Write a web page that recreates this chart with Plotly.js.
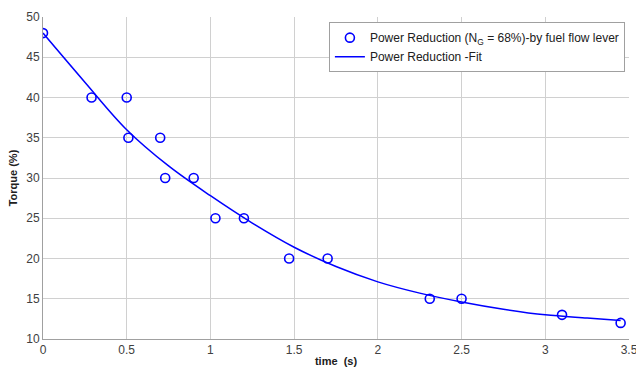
<!DOCTYPE html>
<html>
<head>
<meta charset="utf-8">
<script src="https://cdn.plot.ly/plotly-3.0.1.min.js"></script>
<style>html,body{margin:0;padding:0;background:#fff;}#chart{width:636px;height:367px;}</style>
</head>
<body>
<div id="chart"></div>
<script>
var measTime = [0, 0.29, 0.5, 0.51, 0.7, 0.73, 0.9, 1.03, 1.2, 1.47, 1.7, 2.31, 2.5, 3.1, 3.45];
var measTorque = [48, 40, 40, 35, 35, 30, 30, 25, 25, 20, 20, 15, 15, 13, 12];
var fitTime = [0, 0.25, 0.5, 0.75, 1.0, 1.25, 1.5, 1.75, 2.0, 2.25, 2.5, 2.75, 3.0, 3.25, 3.45];
var fitTorque = [48, 41.9, 36.0, 31.5, 27.8, 24.4, 21.4, 19.0, 17.1, 15.7, 14.6, 13.7, 13.0, 12.6, 12.3];
var xTicks = [0, 0.5, 1, 1.5, 2, 2.5, 3, 3.5];
var yTicks = [10, 15, 20, 25, 30, 35, 40, 45, 50];

var traces = [
  {
    x: measTime, y: measTorque, type: 'scatter', mode: 'markers',
    name: 'Power Reduction (N<sub>G</sub> = 68%)-by fuel flow lever',
    marker: {symbol: 'circle-open', size: 9, color: '#0000ff', line: {width: 1.6, color: '#0000ff'}}
  },
  {
    x: fitTime, y: fitTorque, type: 'scatter', mode: 'lines',
    name: 'Power Reduction -Fit',
    line: {color: '#0000ff', width: 1.5, shape: 'spline'}
  }
];

var axisCommon = {
  showgrid: true, gridcolor: '#d0d0d0', gridwidth: 1,
  showline: true, linecolor: '#a0a0a0', linewidth: 1,
  zeroline: false, ticks: '', mirror: false,
  ticklabeloverflow: 'allow',
  tickfont: {family: 'Liberation Sans, Arial, sans-serif', size: 12, color: '#404040'}
};

var layout = {
  width: 636, height: 367,
  margin: {l: 43, r: 7, t: 17, b: 28},
  paper_bgcolor: '#ffffff', plot_bgcolor: '#ffffff',
  showlegend: true,
  legend: {
    x: 0.993, y: 0.984, xanchor: 'right', yanchor: 'top',
    bgcolor: '#ffffff', bordercolor: '#a0a0a0', borderwidth: 1,
    font: {family: 'Liberation Sans, Arial, sans-serif', size: 12, color: '#202020'},
    tracegroupgap: 0, itemwidth: 30
  },
  xaxis: Object.assign({}, axisCommon, {
    range: [0, 3.5], tickvals: xTicks, ticktext: xTicks.map(String),
    title: {text: '<b>time  (s)</b>', standoff: 2, font: {family: 'Liberation Sans, Arial, sans-serif', size: 11, color: '#202020'}}
  }),
  yaxis: Object.assign({}, axisCommon, {
    range: [10, 50], tickvals: yTicks, ticktext: yTicks.map(String),
    title: {text: '<b>Torque (%)</b>', standoff: 6, font: {family: 'Liberation Sans, Arial, sans-serif', size: 11, color: '#202020'}}
  })
};

Plotly.newPlot('chart', traces, layout, {displayModeBar: false, staticPlot: true});
</script>
</body>
</html>
